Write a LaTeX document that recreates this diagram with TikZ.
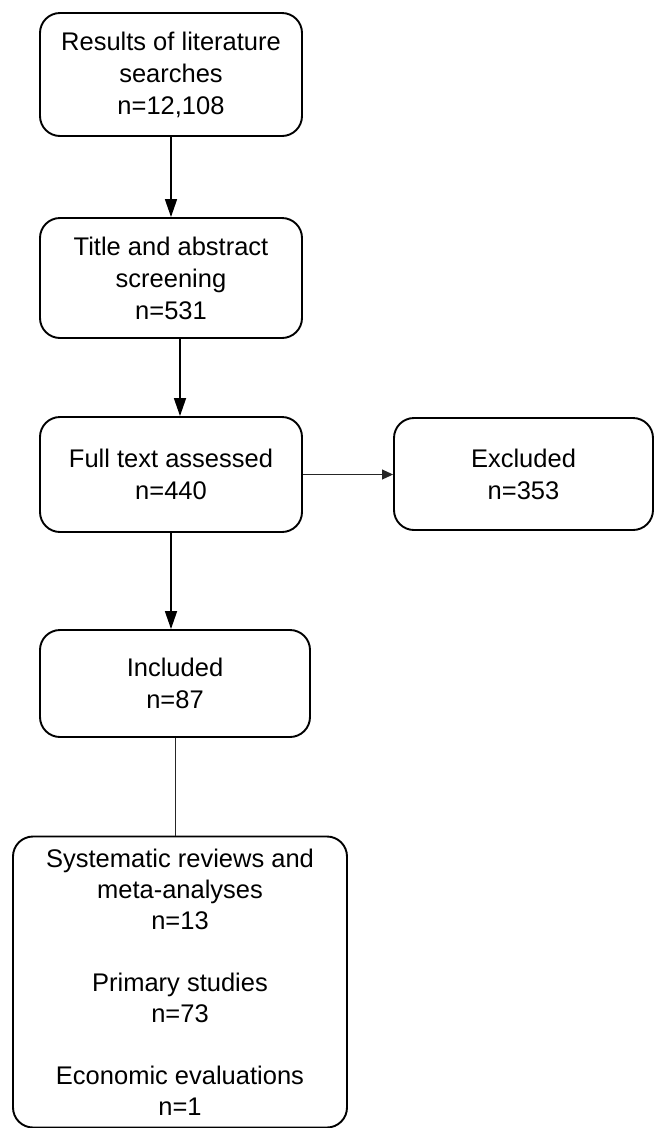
\documentclass[tikz,border=0pt]{standalone}
\usepackage{fontspec}
\setmainfont{Liberation Sans}
\usetikzlibrary{arrows.meta}
\begin{document}
\begin{tikzpicture}[x=1pt,y=1pt,
  box/.style={draw, rectangle, rounded corners=20pt, line width=1.9pt, align=center, inner sep=0pt,
    font=\fontsize{25.5}{32}\selectfont},
  lowbox/.style={box, font=\fontsize{25.5}{31}\selectfont},
  arr/.style={line width=1.7pt, -{Triangle[length=18pt,width=12pt]}},
  thin/.style={line width=1pt, draw=black!85},
  thinarr/.style={line width=1pt, draw=black!85, -{Triangle[length=11pt,width=10pt]}}]
\useasboundingbox (0,0) rectangle (654,-1128);
\node[box, minimum width=262pt, minimum height=123pt] (b1) at (171,-74.5) {Results of literature\\searches\\n=12,108};
\node[box, minimum width=262pt, minimum height=120pt] (b2) at (171,-278) {Title and abstract\\screening\\n=531};
\node[box, minimum width=262pt, minimum height=115pt] (b3) at (171,-474.5) {Full text assessed\\n=440};
\node[box, minimum width=259pt, minimum height=112pt] (ex) at (523.5,-474) {Excluded\\n=353};
\node[box, minimum width=270pt, minimum height=107pt] (b5) at (175,-683.5) {Included\\n=87};
\node[lowbox, minimum width=334pt, minimum height=291pt] (b6) at (180,-982) {Systematic reviews and\\meta-analyses\\n=13\\[31pt]Primary studies\\n=73\\[31pt]Economic evaluations\\n=1};
\draw[arr] (b1.south) -- (b2.north);
\draw[arr] ([xshift=9pt]b2.south) -- ([xshift=9pt]b2.south |- b3.north);
\draw[arr] (b3.south) -- (b3.south |- b5.north);
\draw[thinarr] (b3.east) -- (b3.east -| ex.west);
\draw[thin] (b5.south) -- (b5.south |- b6.north);
\end{tikzpicture}
\end{document}
